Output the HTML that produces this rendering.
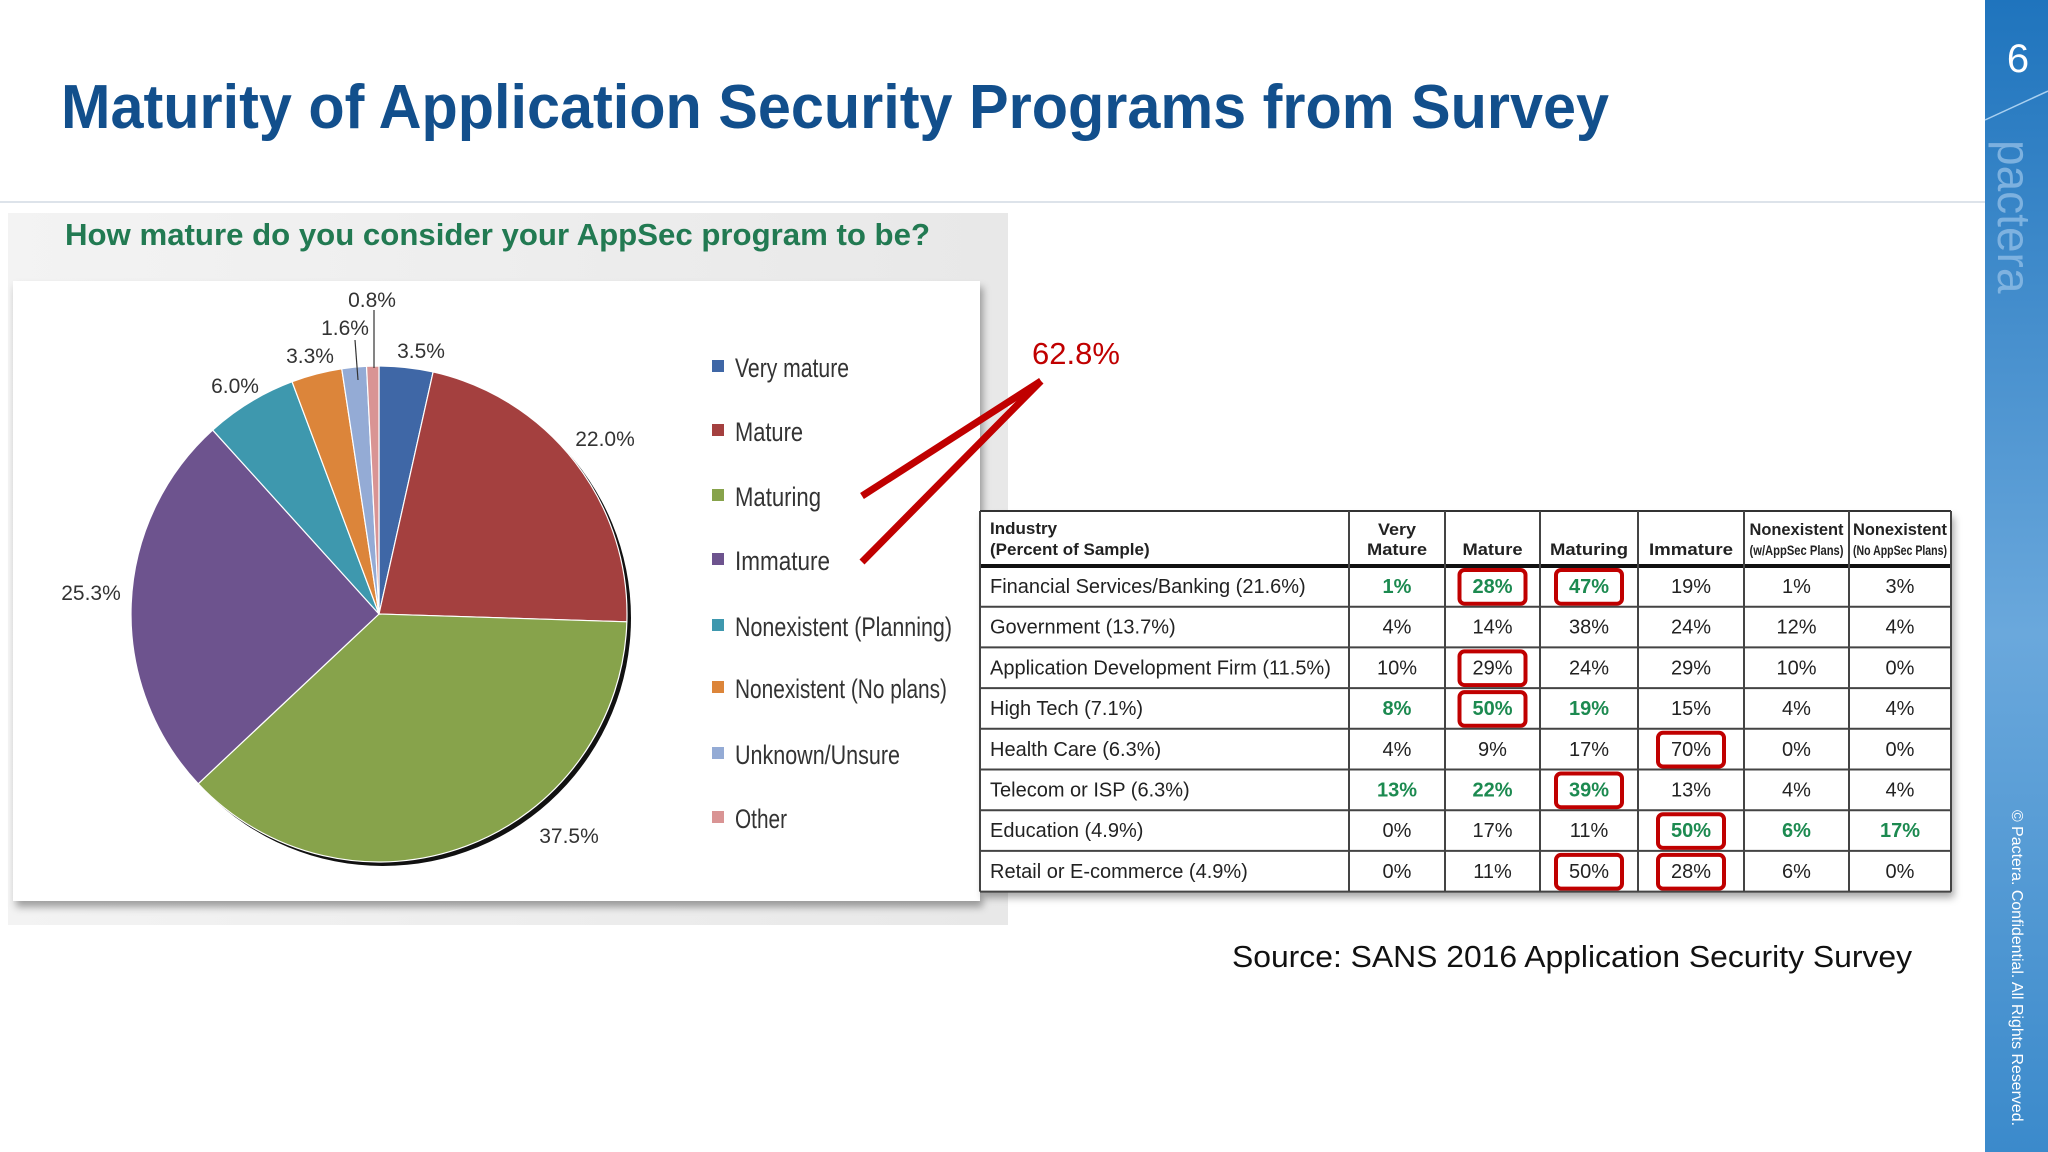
<!DOCTYPE html>
<html><head><meta charset="utf-8">
<style>
html,body{margin:0;padding:0;background:#fff;}
svg{display:block;font-family:"Liberation Sans",sans-serif;}
</style></head>
<body>
<svg id="slide" width="2048" height="1152" viewBox="0 0 2048 1152">
<defs>
<linearGradient id="sideg" x1="0" y1="0" x2="0" y2="1">
<stop offset="0" stop-color="#1f74bd"/><stop offset="0.55" stop-color="#6aa8dc"/><stop offset="1" stop-color="#3b8acb"/>
</linearGradient>
<linearGradient id="panelg" x1="0" y1="0" x2="1" y2="0">
<stop offset="0" stop-color="#f3f3f3"/><stop offset="1" stop-color="#e8e8e8"/>
</linearGradient>
<filter id="sh" x="-5%" y="-5%" width="110%" height="115%"><feDropShadow dx="3" dy="6" stdDeviation="4" flood-color="#000" flood-opacity="0.35"/></filter>
</defs>

<text x="61" y="128" font-size="62" font-weight="bold" fill="#124f8c" textLength="1548" lengthAdjust="spacingAndGlyphs">Maturity of Application Security Programs from Survey</text>
<line x1="0" y1="202" x2="1985" y2="202" stroke="#dde3ea" stroke-width="2"/>

<g>
<rect x="1985" y="0" width="63" height="1152" fill="url(#sideg)"/>
<line x1="1985" y1="120" x2="2048" y2="91" stroke="#a9d0f0" stroke-width="1.5"/>
<text x="2018" y="72" font-size="40" fill="#fff" text-anchor="middle">6</text>
<text transform="translate(1998,140) rotate(90)" font-size="46" fill="#8fbde6" opacity="0.8">pactera</text>
<text transform="translate(2012,810) rotate(90)" font-size="16" fill="#fff" textLength="316" lengthAdjust="spacingAndGlyphs">© Pactera. Confidential. All Rights Reserved.</text>
</g>

<g>
<rect x="8" y="213" width="1000" height="712" fill="url(#panelg)"/>
<text x="65" y="245" font-size="31" font-weight="bold" fill="#227a52" textLength="865" lengthAdjust="spacingAndGlyphs">How mature do you consider your AppSec program to be?</text>
<rect x="13" y="281" width="967" height="620" fill="#fff" filter="url(#sh)"/>
<g id="pie"></g>
<g id="legend"></g>
</g>

<g>
<line x1="862" y1="496" x2="1041" y2="381" stroke="#c00000" stroke-width="7"/>
<line x1="862" y1="562" x2="1041" y2="381" stroke="#c00000" stroke-width="7"/>
<text x="1032" y="364" font-size="31" fill="#c00000">62.8%</text>
</g>

<g id="table"></g>

<text x="1232" y="967" font-size="31" fill="#111" textLength="680" lengthAdjust="spacingAndGlyphs">Source: SANS 2016 Application Security Survey</text>
</svg>

<script>
const categories = ["Very mature","Mature","Maturing","Immature","Nonexistent (Planning)","Nonexistent (No plans)","Unknown/Unsure","Other"];
const values = [3.5,22.0,37.5,25.3,6.0,3.3,1.6,0.8];
const colors = ["#3f67a6","#a4403f","#87a34b","#6d538e","#3e98ae","#dc853a","#94abd5","#d99494"];
const sliceLabels = ["3.5%","22.0%","37.5%","25.3%","6.0%","3.3%","1.6%","0.8%"];

const industries=["Financial Services/Banking (21.6%)","Government (13.7%)","Application Development Firm (11.5%)","High Tech (7.1%)","Health Care (6.3%)","Telecom or ISP (6.3%)","Education (4.9%)","Retail or E-commerce (4.9%)"];
const tableValues=[
 ["1%","28%","47%","19%","1%","3%"],
 ["4%","14%","38%","24%","12%","4%"],
 ["10%","29%","24%","29%","10%","0%"],
 ["8%","50%","19%","15%","4%","4%"],
 ["4%","9%","17%","70%","0%","0%"],
 ["13%","22%","39%","13%","4%","4%"],
 ["0%","17%","11%","50%","6%","17%"],
 ["0%","11%","50%","28%","6%","0%"]];
const greenCells=[[0,0],[0,1],[0,2],[3,0],[3,1],[3,2],[5,0],[5,1],[5,2],[6,3],[6,4],[6,5]];
const boxedCells=[[0,1],[0,2],[2,1],[3,1],[4,3],[5,2],[6,3],[7,2],[7,3]];

(function(){
const NS="http://www.w3.org/2000/svg";
function mk(tag,attrs,parent){const e=document.createElementNS(NS,tag);for(const k in attrs)e.setAttribute(k,attrs[k]);parent.appendChild(e);return e;}

const cx=379, cy=614, r=248;
const total=values.reduce((a,b)=>a+b,0);
function pt(frac,rad){const a=frac*2*Math.PI-Math.PI/2;return [cx+rad*Math.cos(a),cy+rad*Math.sin(a)];}
const pie=document.getElementById('pie');
mk('ellipse',{cx:cx+4,cy:cy+4,rx:r,ry:r,fill:"#111"},pie);
let acc=0;
const labelPos=[[421,358],[605,446],[569,843],[91,600],[235,393],[310,363],[345,335],[372,307]];
values.forEach((v,i)=>{
  const f0=acc/total, f1=(acc+v)/total; acc+=v;
  const [x0,y0]=pt(f0,r),[x1,y1]=pt(f1,r);
  const large=(f1-f0)>0.5?1:0;
  const p=mk('path',{d:`M${cx},${cy} L${x0},${y0} A${r},${r} 0 ${large} 1 ${x1},${y1} Z`,fill:colors[i],stroke:"#fff","stroke-width":1.2},pie);
  
  
  const t=mk('text',{x:labelPos[i][0],y:labelPos[i][1],"font-size":21,fill:"#333","text-anchor":"middle"},pie);
  t.textContent=sliceLabels[i];
  
  
});
mk('line',{x1:355,y1:340,x2:358,y2:380,stroke:"#333","stroke-width":1.2},pie);
mk('line',{x1:374,y1:310,x2:374,y2:368,stroke:"#333","stroke-width":1.2},pie);

const legend=document.getElementById('legend');
const legendY=[367,431,496,560,626,688,754,818];
const legendW=[114,68,86,95,217,212,165,52];
categories.forEach((c,i)=>{
  const s=mk('rect',{x:712,y:legendY[i]-7,width:12,height:12,fill:colors[i]},legend);
  
  
  const t=mk('text',{x:735,y:legendY[i]+10,"font-size":27,fill:"#333",textLength:legendW[i],lengthAdjust:"spacingAndGlyphs"},legend);
  t.textContent=c;
  
  
});

const tbl=document.getElementById('table');
const colX=[980,1349,1445,1540,1638,1744,1849,1951];
const tableTop=511, headH=55, rowH=40.7;
const bg=mk('rect',{x:980,y:tableTop,width:971,height:headH+rowH*8,fill:"#fff",filter:"url(#sh)"},tbl);


const hdr1=["Very","","","","Nonexistent","Nonexistent"];
const hdr2=["Mature","Mature","Maturing","Immature","(w/AppSec Plans)","(No AppSec Plans)"];
const hdr2W=[60,60,78,84,94,94];
mk('text',{x:990,y:534,"font-size":17,"font-weight":"bold",fill:"#222"},tbl).textContent="Industry";
mk('text',{x:990,y:555,"font-size":17,"font-weight":"bold",fill:"#222"},tbl).textContent="(Percent of Sample)";
for(let c=0;c<6;c++){
  const mx=(colX[c+1]+colX[c+2])/2;
  if(hdr1[c]) mk('text',{x:mx,y:535,"font-size":17,"font-weight":"bold",fill:"#222","text-anchor":"middle",textLength:c>=4?94:38,lengthAdjust:"spacingAndGlyphs"},tbl).textContent=hdr1[c];
  mk('text',{x:mx,y:555,"font-size":c>=4?14:17,"font-weight":"bold",fill:"#222","text-anchor":"middle",textLength:hdr2W[c],lengthAdjust:"spacingAndGlyphs"},tbl).textContent=hdr2[c];
}
industries.forEach((ind,r)=>{
  const y=tableTop+headH+rowH*r;
  const lab=mk('text',{x:990,y:y+27,"font-size":20,fill:"#222"},tbl);
  lab.textContent=ind;
  
  
  tableValues[r].forEach((v,c)=>{
    const mx=(colX[c+1]+colX[c+2])/2;
    const g=greenCells.some(a=>a[0]===r&&a[1]===c);
    const t=mk('text',{x:mx,y:y+27,"font-size":20,fill:g?"#1c8a50":"#222","font-weight":g?"bold":"normal","text-anchor":"middle"},tbl);
    t.textContent=v;
    
    
    if(boxedCells.some(a=>a[0]===r&&a[1]===c)){
      const b=mk('rect',{x:mx-33,y:y+4,width:66,height:rowH-7,rx:5,fill:"none",stroke:"#c00000","stroke-width":4},tbl);
      
      
    }
  });
  mk('line',{x1:980,y1:y+rowH,x2:1951,y2:y+rowH,stroke:"#444","stroke-width":2},tbl);
});
mk('line',{x1:980,y1:tableTop,x2:1951,y2:tableTop,stroke:"#333","stroke-width":2},tbl);
mk('line',{x1:980,y1:tableTop+headH,x2:1951,y2:tableTop+headH,stroke:"#111","stroke-width":4},tbl);
colX.forEach(x=>mk('line',{x1:x,y1:tableTop,x2:x,y2:tableTop+headH+rowH*8,stroke:"#444","stroke-width":2},tbl));
})();
</script>
</body></html>
